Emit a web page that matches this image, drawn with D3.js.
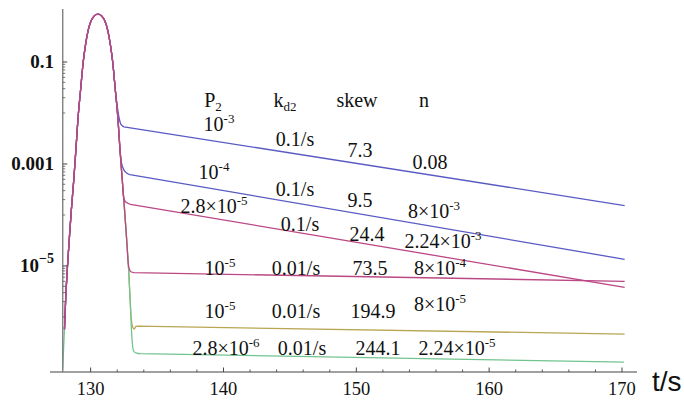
<!DOCTYPE html>
<html>
<head>
<meta charset="utf-8">
<script src="https://cdn.jsdelivr.net/npm/d3@7"></script>
<style>
  body { margin: 0; background: #fff; }
  svg { display: block; }
</style>
</head>
<body>
<div id="chart"></div>
<script>
// axis ticks
const tMajor = [130, 140, 150, 160, 170];
const tMinor = [132, 134, 136, 138, 142, 144, 146, 148, 152, 154, 156, 158, 162, 164, 166, 168];
const yMajor = [0.1, 0.001, 1e-5];
const yMajorText = ['0.1', '0.001', '10^\u22125'];

// shared pulse (t in s, signal)
const pulse = [
  [128.03, 5.75e-7], [128.12, 2.24e-6], [128.24, 8.5e-6], [128.39, 3.3e-5], [128.55, 1.29e-4],
  [128.73, 4.9e-4], [128.89, 1.9e-3], [129.04, 7.4e-3], [129.24, 0.028], [129.44, 0.1],
  [129.61, 0.214], [129.82, 0.427], [130.02, 0.63], [130.29, 0.81], [130.55, 0.87],
  [130.81, 0.81], [131.08, 0.63], [131.28, 0.427], [131.49, 0.214], [131.66, 0.1],
  [131.86, 0.028], [132.06, 7.4e-3], [132.21, 1.9e-3], [132.38, 4.9e-4], [132.55, 1.29e-4],
  [132.71, 3.3e-5], [132.86, 8.5e-6], [132.97, 2.24e-6], [133.07, 5.75e-7], [133.19, 2.34e-7]
];

// tails after each run leaves the pulse (last point = end of the slow decay)
const blueATail = [[132.02, 0.0126], [132.15, 7.8e-3], [132.28, 6.0e-3], [132.51, 5.37e-3], [170.2, 1.53e-4]];
const blueBTail = [[132.32, 1.06e-3], [132.51, 7.6e-4], [132.73, 6.6e-4], [132.96, 6.2e-4], [170.2, 1.35e-5]];
const pinkATail = [[132.47, 2.3e-4], [132.6, 1.85e-4], [132.8, 1.7e-4], [133.0, 1.62e-4], [170.2, 3.8e-6]];
const pinkBTail = [[132.83, 1.12e-5], [132.92, 8.5e-6], [133.03, 7.7e-6], [133.26, 7.4e-6], [170.2, 5.0e-6]];
const oliveTail = [[133.06, 9.1e-7], [133.15, 6.5e-7], [133.28, 5.75e-7], [133.4, 6.5e-7], [133.56, 6.6e-7], [170.2, 4.6e-7]];
const greenHead = [[127.9, 9.5e-8], [127.96, 2.3e-7]];
const greenTail = [[133.3, 2.04e-7], [133.49, 1.94e-7], [133.71, 1.91e-7], [170.15, 1.3e-7]];

// annotation table
const p2Text = ['10^-3', '10^-4', '2.8\u00d710^-5', '10^-5', '10^-5', '2.8\u00d710^-6'];
const kd2Text = ['0.1/s', '0.1/s', '0.1/s', '0.01/s', '0.01/s', '0.01/s'];
const skewText = ['7.3', '9.5', '24.4', '73.5', '194.9', '244.1'];
const nText = ['0.08', '8\u00d710^-3', '2.24\u00d710^-3', '8\u00d710^-4', '8\u00d710^-5', '2.24\u00d710^-5'];

// where each table cell sits (pixels, centre x / baseline y)
const cellX = [[219, 295, 360, 430], [214, 295, 360, 434], [214, 300, 367, 443],
               [220, 296, 370, 440], [220, 296, 373, 440], [226, 302, 378, 457]];
const cellY = [[131, 146, 157, 169], [179, 196, 207, 218], [213, 231, 241, 248],
               [275, 275, 275, 275], [318, 318, 318, 311], [355, 355, 355, 355]];

const width = 684, height = 401;
const serif = "'Liberation Serif', 'Times New Roman', Times, 'DejaVu Serif', serif";

const svg = d3.select('#chart').append('svg')
  .attr('width', width)
  .attr('height', height);

const x = d3.scaleLinear().domain([126.94, 171.13]).range([50, 637]);
const y = d3.scaleLog().domain([Math.pow(10, -7.08), Math.pow(10, 0.04)]).range([372, 9]);
const t0 = 127.9; // where the vertical axis sits

const upTo = tMax => pulse.filter(p => p[0] <= tMax);
const runs = [
  { color: '#b8a653', pts: upTo(132.97).concat(oliveTail) },
  { color: '#72c48f', pts: greenHead.concat(pulse, greenTail) },
  { color: '#5a5ac4', pts: upTo(131.86).concat(blueATail) },
  { color: '#5a5ac4', pts: upTo(132.21).concat(blueBTail) },
  { color: '#bb4884', pts: upTo(132.38).concat(pinkATail) },
  { color: '#bb4884', pts: upTo(132.71).concat(pinkBTail) }
];

svg.append('defs').append('clipPath').attr('id', 'plot-clip')
  .append('rect')
  .attr('x', x(t0)).attr('y', 0)
  .attr('width', x(171.13) - x(t0)).attr('height', y.range()[0]);

const smooth = d3.line()
  .x(d => x(d[0]))
  .y(d => y(d[1]))
  .curve(d3.curveMonotoneX);

// pulse and knee drawn smooth, the slow decay as a straight segment
function runPath(pts) {
  const head = pts.slice(0, -1);
  const last = pts[pts.length - 1];
  return smooth(head) + `L${x(last[0])},${y(last[1])}`;
}

svg.append('g').attr('clip-path', 'url(#plot-clip)')
  .selectAll('path')
  .data(runs)
  .enter()
  .append('path')
  .attr('fill', 'none')
  .attr('stroke', d => d.color)
  .attr('stroke-width', 1.3)
  .attr('d', d => runPath(d.pts));

// x axis: line plus inward ticks
const xAxis = svg.append('g');
xAxis.append('line')
  .attr('x1', 50).attr('x2', 637)
  .attr('y1', y.range()[0]).attr('y2', y.range()[0])
  .attr('stroke', '#444').attr('stroke-width', 1.2);
xAxis.selectAll('.major').data(tMajor).enter().append('line')
  .attr('x1', d => x(d)).attr('x2', d => x(d))
  .attr('y1', 372).attr('y2', 367.5)
  .attr('stroke', '#444');
xAxis.selectAll('.minor').data(tMinor).enter().append('line')
  .attr('x1', d => x(d)).attr('x2', d => x(d))
  .attr('y1', 372).attr('y2', 369.5)
  .attr('stroke', '#555');
xAxis.selectAll('text').data(tMajor).enter().append('text')
  .attr('x', d => x(d)).attr('y', 395)
  .attr('text-anchor', 'middle')
  .attr('font-family', serif).attr('font-size', 18.5).attr('fill', '#111')
  .text(d => d);

svg.append('text')
  .attr('x', 652).attr('y', 391)
  .attr('font-family', "'Liberation Sans', Arial, sans-serif")
  .attr('font-size', 28).attr('fill', '#111')
  .text('t/s');

// y axis: line, major + minor log ticks
const ax = x(t0);
const yAxis = svg.append('g');
yAxis.append('line')
  .attr('x1', ax).attr('x2', ax)
  .attr('y1', 9).attr('y2', 372)
  .attr('stroke', '#777').attr('stroke-width', 1.3);

const yMinor = [];
yMajor.forEach(v => {
  for (let m = 1; m <= 9; m++) yMinor.push(m * v / 10);
});
yAxis.selectAll('.minor').data(yMinor).enter().append('line')
  .attr('x1', ax).attr('x2', ax + 2.5)
  .attr('y1', d => y(d)).attr('y2', d => y(d))
  .attr('stroke', '#555').attr('stroke-width', 0.8);
yAxis.selectAll('.major').data(yMajor).enter().append('line')
  .attr('x1', ax).attr('x2', ax + 4.5)
  .attr('y1', d => y(d)).attr('y2', d => y(d))
  .attr('stroke', '#444');

// writes "a×10^b" as text with a raised exponent
function sciText(sel, str, supSize, rise) {
  const parts = str.split('^');
  sel.append('tspan').text(parts[0]);
  if (parts[1]) {
    sel.append('tspan')
      .attr('dy', -rise)
      .attr('font-size', supSize)
      .text(parts[1]);
  }
}

yAxis.selectAll('text').data(yMajor).enter().append('text')
  .attr('x', 54).attr('y', d => y(d) + 6)
  .attr('text-anchor', 'end')
  .attr('font-family', serif).attr('font-size', 19)
  .attr('font-weight', 'bold').attr('fill', '#111')
  .each(function(d, i) { sciText(d3.select(this), yMajorText[i], 14, 9); });

// column headers
const head = svg.append('g')
  .attr('font-family', serif).attr('font-size', 20).attr('fill', '#111');
const hP = head.append('text').attr('x', 213).attr('y', 107).attr('text-anchor', 'middle');
hP.append('tspan').text('P');
hP.append('tspan').attr('dy', 4).attr('font-size', 13).text('2');
const hK = head.append('text').attr('x', 285).attr('y', 107).attr('text-anchor', 'middle');
hK.append('tspan').text('k');
hK.append('tspan').attr('dy', 4).attr('font-size', 13).text('d2');
head.append('text').attr('x', 357).attr('y', 107).attr('text-anchor', 'middle').text('skew');
head.append('text').attr('x', 424).attr('y', 107).attr('text-anchor', 'middle').text('n');

// table rows
const columns = [p2Text, kd2Text, skewText, nText];
const cells = [];
columns.forEach((col, c) => col.forEach((txt, r) => cells.push({ txt, x: cellX[r][c], y: cellY[r][c] })));

svg.append('g')
  .attr('font-family', serif).attr('font-size', 20).attr('fill', '#111')
  .selectAll('text')
  .data(cells)
  .enter()
  .append('text')
  .attr('x', d => d.x).attr('y', d => d.y)
  .attr('text-anchor', 'middle')
  .each(function(d) { sciText(d3.select(this), d.txt, 13, 8); });
</script>
</body>
</html>
